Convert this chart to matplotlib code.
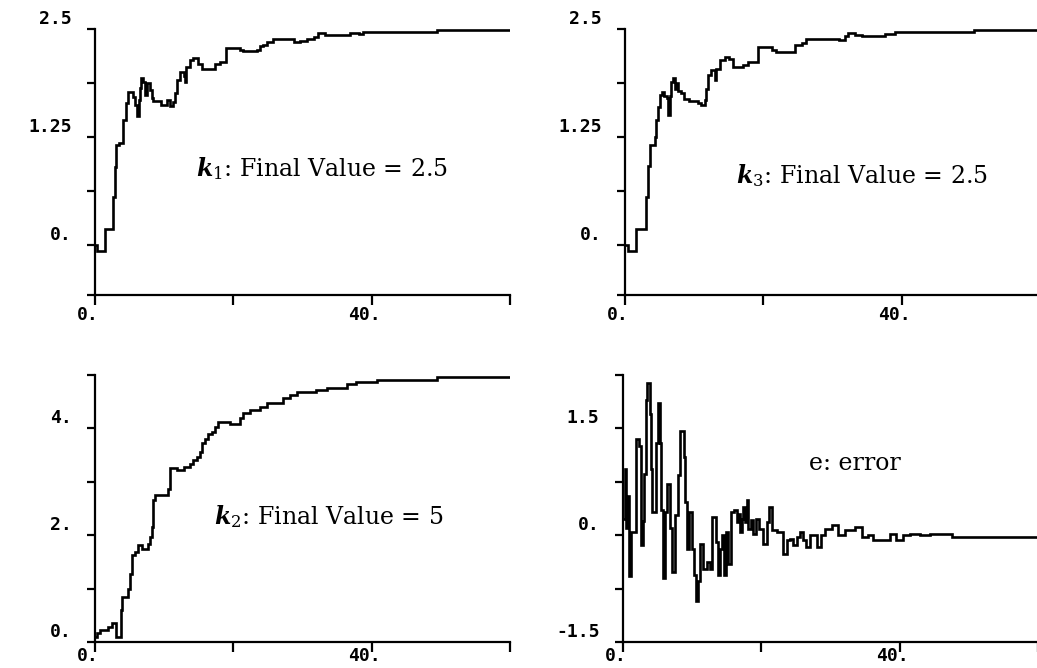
import matplotlib
matplotlib.use("Agg")
import matplotlib.pyplot as plt
from matplotlib.transforms import ScaledTranslation

plt.rcParams['mathtext.fontset'] = 'dejavuserif'

# ---------------- data ----------------
k1_t = [0, 0.25, 1.45, 2.65, 2.9, 3.1, 3.4, 4.1, 4.5, 4.8,
        5.5, 5.8, 6.0, 6.3, 6.5, 6.7, 7.0, 7.2, 7.5, 7.9,
        8.2, 8.4, 9.6, 10.4, 10.8, 11.3, 11.6, 11.8, 12.3, 12.8,
        13.0, 13.2, 13.7, 14.2, 14.9, 15.4, 17.3, 18.1, 19.0, 21.0,
        21.4, 23.4, 23.8, 24.3, 24.8, 25.8, 28.7, 29.6, 30.6, 31.6,
        32.3, 33.3, 36.9, 38.1, 38.8, 49.4, 60]
k1_v = [0.0, -0.07, 0.18, 0.56, 0.9, 1.16, 1.18, 1.45, 1.64, 1.77,
        1.71, 1.62, 1.49, 1.68, 1.82, 1.93, 1.89, 1.74, 1.87, 1.79,
        1.70, 1.67, 1.62, 1.68, 1.61, 1.66, 1.76, 1.91, 2.0, 1.96,
        1.89, 2.06, 2.14, 2.16, 2.10, 2.04, 2.09, 2.12, 2.28, 2.26,
        2.24, 2.26, 2.30, 2.31, 2.35, 2.38, 2.35, 2.36, 2.38, 2.41,
        2.45, 2.43, 2.45, 2.44, 2.47, 2.49, 2.49]

k3_t = [0, 0.4, 1.6, 3.1, 3.3, 3.6, 4.3, 4.5, 4.8, 5.0,
        5.3, 5.7, 6.0, 6.2, 6.45, 6.7, 6.9, 7.2, 7.5, 7.7,
        8.1, 8.6, 9.3, 10.5, 11.0, 11.5, 11.75, 12.0, 12.5, 13.0,
        13.2, 13.7, 14.4, 15.1, 15.6, 17.1, 17.8, 19.2, 21.3, 21.8,
        24.6, 25.6, 26.1, 30.9, 31.8, 32.3, 33.3, 34.2, 37.6, 39.0,
        50.5, 60]
k3_v = [0.0, -0.07, 0.18, 0.56, 0.91, 1.16, 1.25, 1.45, 1.6, 1.74,
        1.77, 1.73, 1.70, 1.5, 1.72, 1.89, 1.93, 1.80, 1.88, 1.78,
        1.76, 1.69, 1.67, 1.64, 1.62, 1.68, 1.8, 1.97, 2.03, 1.91,
        2.04, 2.14, 2.18, 2.15, 2.06, 2.08, 2.12, 2.29, 2.26, 2.23,
        2.31, 2.34, 2.38, 2.37, 2.42, 2.45, 2.43, 2.42, 2.44, 2.47,
        2.49, 2.49]

k2_t = [0, 0.25, 0.7, 1.9, 2.4, 3.0, 3.7, 3.85, 4.8, 5.05,
        5.3, 5.8, 6.25, 6.75, 7.7, 7.95, 8.2, 8.45, 8.7, 10.6,
        10.85, 11.8, 12.8, 13.7, 14.2, 14.7, 15.2, 15.4, 15.9, 16.4,
        16.9, 17.3, 17.8, 19.5, 21.0, 21.4, 22.4, 23.8, 24.8, 27.2,
        28.2, 29.2, 32.0, 33.5, 36.4, 37.8, 40.7, 49.4, 60]
k2_v = [0.1, 0.16, 0.23, 0.28, 0.36, 0.1, 0.6, 0.84, 1.0, 1.28,
        1.62, 1.69, 1.81, 1.75, 1.84, 1.97, 2.16, 2.66, 2.75, 2.87,
        3.25, 3.22, 3.28, 3.34, 3.4, 3.47, 3.56, 3.72, 3.81, 3.9,
        3.94, 4.03, 4.12, 4.09, 4.19, 4.28, 4.34, 4.4, 4.47, 4.56,
        4.62, 4.69, 4.72, 4.75, 4.84, 4.86, 4.9, 4.97, 4.97]

e_t = [0, 0.25, 0.45, 0.65, 0.85, 1.1, 1.85, 2.3, 2.55, 2.85,
       3.1, 3.3, 3.5, 3.85, 4.05, 4.25, 4.7, 5.0, 5.3, 5.5,
       5.75, 6.0, 6.4, 6.8, 7.05, 7.45, 7.9, 8.2, 8.8, 9.0,
       9.25, 9.5, 10.0, 10.3, 10.6, 10.9, 11.2, 11.5, 12.2, 12.6,
       12.9, 13.4, 13.7, 14.0, 14.3, 14.6, 14.9, 15.2, 15.6, 16.0,
       16.5, 16.7, 16.9, 17.2, 17.4, 17.7, 17.9, 18.1, 18.5, 18.8,
       19.3, 19.7, 20.3, 20.8, 21.1, 21.6, 22.2, 23.2, 23.7, 24.2,
       24.6, 25.1, 25.6, 26.0, 26.5, 27.0, 28.0, 28.6, 29.2, 30.2,
       31.1, 32.1, 33.5, 34.5, 35.4, 36.2, 37.4, 38.6, 39.5, 40.5,
       41.5, 43.0, 44.4, 45.5, 47.5, 60]
e_v = [0.23, 0.93, 0.10, 0.55, -0.58, 0.05, 1.35, 1.25, -0.14, 0.20,
       0.86, 1.9, 2.14, 1.7, 0.93, 0.33, 1.3, 1.86, 1.3, 0.35,
       -0.6, 0.33, 0.72, 0.10, -0.51, 0.28, 0.84, 1.47, 1.1, 0.47,
       -0.19, 0.33, -0.19, -0.56, -0.93, -0.65, -0.12, -0.47, -0.37, -0.47,
       0.26, -0.1, -0.56, -0.2, 0.0, -0.56, 0.05, -0.4, 0.33, 0.35,
       0.19, 0.3, 0.05, 0.23, 0.40, 0.19, 0.49, 0.09, 0.21, 0.02,
       0.23, 0.09, -0.12, 0.19, 0.40, 0.07, 0.05, -0.26, -0.07, -0.05,
       -0.14, -0.02, 0.05, -0.07, -0.16, 0.0, -0.16, 0.0, 0.09, 0.14,
       0.0, 0.07, 0.12, -0.02, 0.0, -0.07, -0.07, 0.02, -0.07, 0.0,
       0.02, 0.0, 0.01, 0.02, -0.02, -0.02]

x_ticks = [0, 20, 40, 60]
x_tick_labels = ["0.", "", "40.", ""]

k13_yticks = [-0.58, 0, 0.625, 1.25, 1.875, 2.5]
k13_ylabels = ["", "0.", "", "1.25", "", "2.5"]
k2_yticks = [0, 1, 2, 3, 4, 5]
k2_ylabels = ["0.", "", "2.", "", "4.", ""]
e_yticks = [-1.5, -0.75, 0, 0.75, 1.5, 2.25]
e_ylabels = ["-1.5", "", "0.", "", "1.5", ""]

titles = [r"$\mathbfit{k}_{1}$: Final Value = 2.5",
          r"$\mathbfit{k}_{3}$: Final Value = 2.5",
          r"$\mathbfit{k}_{2}$: Final Value = 5",
          "e: error"]

# ---------------- layout ----------------
W, H = 1037, 668
fig = plt.figure(figsize=(W / 100, H / 100), dpi=100)
fig.patch.set_facecolor("white")

AX_W = 415  # pixels for 0..60

def add_px_axes(left, top, height):
    return fig.add_axes([left / W, 1 - (top + height) / H, AX_W / W, height / H])

panels = [
    dict(pos=(95, 29, 266), t=k1_t, v=k1_v, ylim=(-0.58, 2.5), xl_up=0,
         yt=k13_yticks, yl=k13_ylabels, title=titles[0], txt=(322, 176)),
    dict(pos=(625, 29, 266), t=k3_t, v=k3_v, ylim=(-0.58, 2.5), xl_up=0,
         yt=k13_yticks, yl=k13_ylabels, title=titles[1], txt=(862, 183)),
    dict(pos=(95, 375, 267), t=k2_t, v=k2_v, ylim=(0, 5), xl_up=6,
         yt=k2_yticks, yl=k2_ylabels, title=titles[2], txt=(329, 524)),
    dict(pos=(623, 375, 267), t=e_t, v=e_v, ylim=(-1.5, 2.25), xl_up=6,
         yt=e_yticks, yl=e_ylabels, title=titles[3], txt=(855, 470)),
]

mono = "DejaVu Sans Mono"
for p in panels:
    ax = add_px_axes(*p["pos"])
    ax.plot(p["t"], p["v"], drawstyle="steps-post", color="black",
            lw=1.9, solid_joinstyle="miter", clip_on=True)
    ax.set_xlim(0, 60)
    ax.set_ylim(*p["ylim"])
    for s in ("top", "right"):
        ax.spines[s].set_visible(False)
    for s in ("left", "bottom"):
        ax.spines[s].set_linewidth(1.6)
        ax.spines[s].set_color("black")
    ax.set_xticks(x_ticks)
    ax.set_xticklabels(x_tick_labels, fontfamily=mono, fontsize=13,
                       fontweight="bold")
    ax.set_yticks(p["yt"])
    ax.set_yticklabels(p["yl"], fontfamily=mono, fontsize=13,
                       fontweight="bold")
    ax.tick_params(axis="x", direction="out", length=7, width=1.6, pad=1)
    ax.tick_params(axis="y", direction="out", length=6, width=1.6, pad=11)
    ax.patch.set_alpha(0)
    offx = ScaledTranslation(-7 / 100, p["xl_up"] / 100, fig.dpi_scale_trans)
    for lab in ax.get_xticklabels():
        lab.set_transform(lab.get_transform() + offx)
    offy = ScaledTranslation(0, 12 / 100, fig.dpi_scale_trans)
    for lab in ax.get_yticklabels():
        lab.set_transform(lab.get_transform() + offy)
    tx, ty = p["txt"]
    fig.text(tx / W, 1 - ty / H, p["title"], ha="center", va="baseline",
             fontfamily="DejaVu Serif", fontsize=17, color="black")

fig.savefig("out.png", dpi=100, facecolor="white")
